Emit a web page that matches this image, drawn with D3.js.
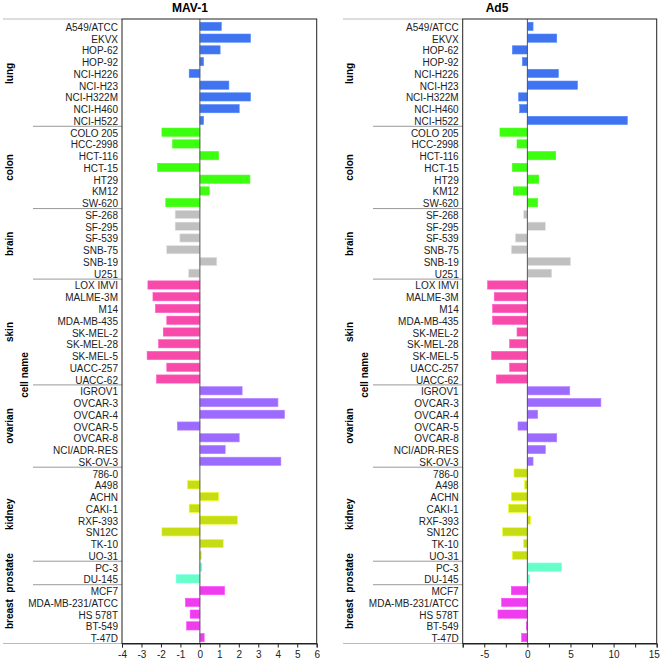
<!DOCTYPE html>
<html>
<head>
<meta charset="utf-8">
<script src="https://cdn.jsdelivr.net/npm/d3@7"></script>
<style>
  body { margin: 0; background: #fff; }
  text { font-family: "Liberation Sans", Arial, sans-serif; }
</style>
</head>
<body>
<svg id="chart" width="661" height="661"></svg>
<script>
// cell lines grouped by tissue
var groups = ["lung", "colon", "brain", "skin", "ovarian", "kidney", "prostate", "breast"];
var groupColors = ["#4073f0", "#3cff10", "#c0c0c0", "#f84aa8", "#9b6bff", "#c6dc14", "#66ffc8", "#ee3cee"];
var cells = [
  ["A549/ATCC", "EKVX", "HOP-62", "HOP-92", "NCI-H226", "NCI-H23", "NCI-H322M", "NCI-H460", "NCI-H522"],
  ["COLO 205", "HCC-2998", "HCT-116", "HCT-15", "HT29", "KM12", "SW-620"],
  ["SF-268", "SF-295", "SF-539", "SNB-75", "SNB-19", "U251"],
  ["LOX IMVI", "MALME-3M", "M14", "MDA-MB-435", "SK-MEL-2", "SK-MEL-28", "SK-MEL-5", "UACC-257", "UACC-62"],
  ["IGROV1", "OVCAR-3", "OVCAR-4", "OVCAR-5", "OVCAR-8", "NCI/ADR-RES", "SK-OV-3"],
  ["786-0", "A498", "ACHN", "CAKI-1", "RXF-393", "SN12C", "TK-10", "UO-31"],
  ["PC-3", "DU-145"],
  ["MCF7", "MDA-MB-231/ATCC", "HS 578T", "BT-549", "T-47D"]
];

var mav1 = [
  1.10, 2.60, 1.04, 0.19, -0.55, 1.49, 2.60, 2.02, 0.19,
  -1.95, -1.40, 0.96, -2.17, 2.57, 0.48, -1.75,
  -1.27, -1.27, -1.03, -1.71, 0.87, -0.58,
  -2.67, -2.41, -2.28, -1.70, -1.88, -2.12, -2.71, -1.70, -2.23,
  2.17, 4.01, 4.35, -1.16, 2.02, 1.30, 4.16,
  0.0, -0.63, 0.96, -0.55, 1.93, -1.95, 1.20, 0.07,
  0.10, -1.22,
  1.27, -0.74, -0.50, -0.68, 0.22
];
var ad5 = [
  0.66, 3.41, -1.74, -0.58, 3.60, 5.81, -1.01, -0.89, 11.59,
  -3.18, -1.20, 3.29, -1.74, 1.32, -1.63, 1.20,
  -0.43, 2.09, -1.40, -1.86, 5.00, 2.83,
  -4.61, -3.84, -4.03, -4.03, -1.20, -2.05, -4.15, -2.05, -3.60,
  4.92, 8.53, 1.20, -1.09, 3.41, 2.09, 0.66,
  -1.55, -0.31, -1.86, -2.17, 0.35, -2.87, -0.43, -1.74,
  3.95, 0.27,
  -1.86, -2.98, -3.41, -0.12, -0.66
];

var mavTicks = [-4, -3, -2, -1, 0, 1, 2, 3, 4, 5, 6];
var ad5Ticks = [-7.5, -5, -2.5, 0, 2.5, 5, 7.5, 10, 12.5, 15];
var ad5Labels = [-5, 0, 5, 10, 15];

// flatten into rows
var rows = [];
cells.forEach(function (list, gi) {
  list.forEach(function (name) { rows.push({ name: name, group: gi }); });
});

var svg = d3.select("#chart");
var plotTop = 19, plotBottom = 643.5;

function drawPanel(opts) {
  var g = svg.append("g");
  var x = d3.scaleLinear().domain(opts.domain).range([opts.left, opts.right]);
  var y = d3.scaleBand().domain(rows.map(function (d, i) { return i; }))
    .range([plotTop + 1.5, plotBottom]).paddingInner(0.3).paddingOuter(0.15);
  var step = y.step();

  // title
  g.append("text").attr("x", opts.titleX).attr("y", 12)
    .attr("text-anchor", "middle").attr("font-size", 12).attr("font-weight", "bold")
    .text(opts.title);

  // outer grey lines on the label side
  g.append("line").attr("x1", opts.outerX).attr("x2", opts.left)
    .attr("y1", plotTop).attr("y2", plotTop).attr("stroke", "#bbb");
  g.append("line").attr("x1", opts.outerX).attr("x2", opts.left)
    .attr("y1", plotBottom).attr("y2", plotBottom).attr("stroke", "#bbb");

  // group separators and group labels
  var start = 0;
  cells.forEach(function (list, gi) {
    var y0 = y(start) - step * y.paddingInner() / 2;
    var y1 = y(start + list.length - 1) + y.bandwidth() + step * y.paddingInner() / 2;
    if (gi > 0) {
      g.append("line").attr("x1", opts.sepX).attr("x2", opts.left)
        .attr("y1", y0).attr("y2", y0).attr("stroke", "#999");
    }
    var cy = (y0 + y1) / 2;
    g.append("text").attr("transform", "translate(" + opts.groupX + "," + cy + ") rotate(-90)")
      .attr("text-anchor", "middle").attr("font-size", 10).attr("font-weight", "bold")
      .text(groups[gi]);
    start += list.length;
  });

  g.append("text").attr("transform", "translate(" + opts.nameX + ",375) rotate(-90)")
    .attr("text-anchor", "middle").attr("font-size", 10).attr("font-weight", "bold")
    .text("cell name");

  // bars
  g.append("g").selectAll("rect").data(opts.values).join("rect")
    .attr("x", function (v) { return x(Math.min(0, v)); })
    .attr("width", function (v) { return Math.abs(x(v) - x(0)); })
    .attr("y", function (v, i) { return y(i); })
    .attr("height", y.bandwidth())
    .attr("fill", function (v, i) { return groupColors[rows[i].group]; })
    .attr("stroke", function (v, i) { return d3.color(groupColors[rows[i].group]).brighter(0.5); })
    .attr("stroke-width", 0.6);

  // cell labels
  g.append("g").selectAll("text").data(rows).join("text")
    .attr("x", opts.left - 4)
    .attr("y", function (d, i) { return y(i) + y.bandwidth() / 2 + 1; })
    .attr("dy", "0.35em")
    .attr("text-anchor", "end").attr("font-size", 10).attr("fill", "#222")
    .text(function (d) { return d.name; });

  // zero line
  g.append("line").attr("x1", x(0)).attr("x2", x(0)).attr("y1", plotTop).attr("y2", plotBottom)
    .attr("stroke", "#555").attr("stroke-width", 1);

  // frame
  g.append("rect").attr("x", opts.left).attr("y", plotTop)
    .attr("width", opts.right - opts.left).attr("height", plotBottom - plotTop)
    .attr("fill", "none").attr("stroke", "#222").attr("stroke-width", 1);

  // x axis
  var axis = d3.axisBottom(x).tickValues(opts.ticks).tickSize(4)
    .tickFormat(function (d) { return opts.labels.indexOf(d) >= 0 ? d : ""; });
  var ag = g.append("g").attr("transform", "translate(0," + plotBottom + ")").call(axis);
  ag.select(".domain").attr("stroke", "#222");
  ag.selectAll(".tick line").attr("stroke", "#222");
  ag.selectAll(".tick text").attr("font-size", 10).attr("fill", "#222")
    .attr("font-family", "Liberation Sans, Arial, sans-serif");
  // keep the last label inside the picture
  ag.selectAll(".tick text").filter(function (d) { return d === opts.domain[1]; })
    .attr("dx", opts.lastShift || 0);
}

drawPanel({
  title: "MAV-1", titleX: 190, values: mav1, domain: [-4, 6], left: 122, right: 316.7,
  ticks: mavTicks, labels: mavTicks, outerX: 3, sepX: 33, groupX: 12.5, nameX: 28
});
drawPanel({
  title: "Ad5", titleX: 497, values: ad5, domain: [-7.5, 15], left: 462.7, right: 656.7,
  ticks: ad5Ticks, labels: ad5Labels, outerX: 343, sepX: 373, groupX: 352.5, nameX: 368,
  lastShift: -3
});
</script>
</body>
</html>
